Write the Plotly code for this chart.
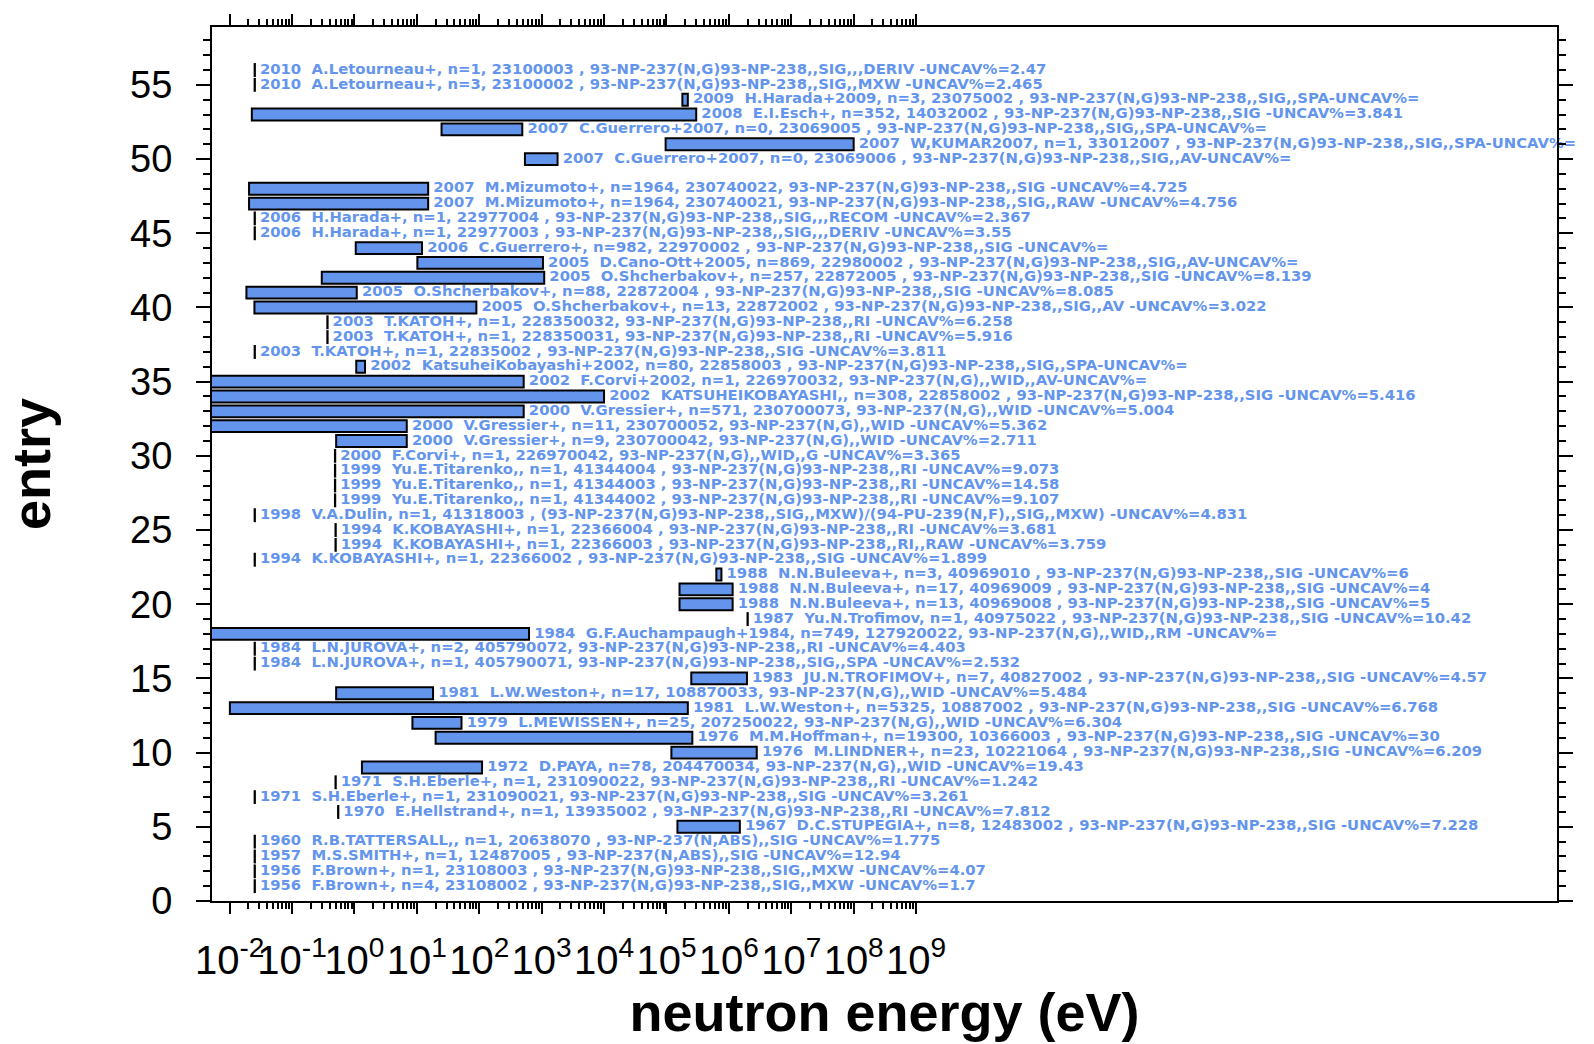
import plotly.graph_objects as go

# ---------------- data ----------------
entry = [1, 2, 3, 4, 5, 6, 7, 8, 9, 10,
         11, 12, 13, 14, 15, 16, 17, 18, 19, 20,
         21, 22, 23, 24, 25, 26, 27, 28, 29, 30,
         31, 32, 33, 34, 35, 36, 37, 38, 39, 40,
         41, 42, 43, 44, 45, 46, 47, 48, 50, 51,
         52, 53, 54, 55, 56]

labels = [
    "1956  F.Brown+, n=4, 23108002 , 93-NP-237(N,G)93-NP-238,,SIG,,MXW -UNCAV%=1.7",
    "1956  F.Brown+, n=1, 23108003 , 93-NP-237(N,G)93-NP-238,,SIG,,MXW -UNCAV%=4.07",
    "1957  M.S.SMITH+, n=1, 12487005 , 93-NP-237(N,ABS),,SIG -UNCAV%=12.94",
    "1960  R.B.TATTERSALL,, n=1, 20638070 , 93-NP-237(N,ABS),,SIG -UNCAV%=1.775",
    "1967  D.C.STUPEGIA+, n=8, 12483002 , 93-NP-237(N,G)93-NP-238,,SIG -UNCAV%=7.228",
    "1970  E.Hellstrand+, n=1, 13935002 , 93-NP-237(N,G)93-NP-238,,RI -UNCAV%=7.812",
    "1971  S.H.Eberle+, n=1, 231090021, 93-NP-237(N,G)93-NP-238,,SIG -UNCAV%=3.261",
    "1971  S.H.Eberle+, n=1, 231090022, 93-NP-237(N,G)93-NP-238,,RI -UNCAV%=1.242",
    "1972  D.PAYA, n=78, 204470034, 93-NP-237(N,G),,WID -UNCAV%=19.43",
    "1976  M.LINDNER+, n=23, 10221064 , 93-NP-237(N,G)93-NP-238,,SIG -UNCAV%=6.209",
    "1976  M.M.Hoffman+, n=19300, 10366003 , 93-NP-237(N,G)93-NP-238,,SIG -UNCAV%=30",
    "1979  L.MEWISSEN+, n=25, 207250022, 93-NP-237(N,G),,WID -UNCAV%=6.304",
    "1981  L.W.Weston+, n=5325, 10887002 , 93-NP-237(N,G)93-NP-238,,SIG -UNCAV%=6.768",
    "1981  L.W.Weston+, n=17, 108870033, 93-NP-237(N,G),,WID -UNCAV%=5.484",
    "1983  JU.N.TROFIMOV+, n=7, 40827002 , 93-NP-237(N,G)93-NP-238,,SIG -UNCAV%=4.57",
    "1984  L.N.JUROVA+, n=1, 405790071, 93-NP-237(N,G)93-NP-238,,SIG,,SPA -UNCAV%=2.532",
    "1984  L.N.JUROVA+, n=2, 405790072, 93-NP-237(N,G)93-NP-238,,RI -UNCAV%=4.403",
    "1984  G.F.Auchampaugh+1984, n=749, 127920022, 93-NP-237(N,G),,WID,,RM -UNCAV%=",
    "1987  Yu.N.Trofimov, n=1, 40975022 , 93-NP-237(N,G)93-NP-238,,SIG -UNCAV%=10.42",
    "1988  N.N.Buleeva+, n=13, 40969008 , 93-NP-237(N,G)93-NP-238,,SIG -UNCAV%=5",
    "1988  N.N.Buleeva+, n=17, 40969009 , 93-NP-237(N,G)93-NP-238,,SIG -UNCAV%=4",
    "1988  N.N.Buleeva+, n=3, 40969010 , 93-NP-237(N,G)93-NP-238,,SIG -UNCAV%=6",
    "1994  K.KOBAYASHI+, n=1, 22366002 , 93-NP-237(N,G)93-NP-238,,SIG -UNCAV%=1.899",
    "1994  K.KOBAYASHI+, n=1, 22366003 , 93-NP-237(N,G)93-NP-238,,RI,,RAW -UNCAV%=3.759",
    "1994  K.KOBAYASHI+, n=1, 22366004 , 93-NP-237(N,G)93-NP-238,,RI -UNCAV%=3.681",
    "1998  V.A.Dulin, n=1, 41318003 , (93-NP-237(N,G)93-NP-238,,SIG,,MXW)/(94-PU-239(N,F),,SIG,,MXW) -UNCAV%=4.831",
    "1999  Yu.E.Titarenko,, n=1, 41344002 , 93-NP-237(N,G)93-NP-238,,RI -UNCAV%=9.107",
    "1999  Yu.E.Titarenko,, n=1, 41344003 , 93-NP-237(N,G)93-NP-238,,RI -UNCAV%=14.58",
    "1999  Yu.E.Titarenko,, n=1, 41344004 , 93-NP-237(N,G)93-NP-238,,RI -UNCAV%=9.073",
    "2000  F.Corvi+, n=1, 226970042, 93-NP-237(N,G),,WID,,G -UNCAV%=3.365",
    "2000  V.Gressier+, n=9, 230700042, 93-NP-237(N,G),,WID -UNCAV%=2.711",
    "2000  V.Gressier+, n=11, 230700052, 93-NP-237(N,G),,WID -UNCAV%=5.362",
    "2000  V.Gressier+, n=571, 230700073, 93-NP-237(N,G),,WID -UNCAV%=5.004",
    "2002  KATSUHEIKOBAYASHI,, n=308, 22858002 , 93-NP-237(N,G)93-NP-238,,SIG -UNCAV%=5.416",
    "2002  F.Corvi+2002, n=1, 226970032, 93-NP-237(N,G),,WID,,AV-UNCAV%=",
    "2002  KatsuheiKobayashi+2002, n=80, 22858003 , 93-NP-237(N,G)93-NP-238,,SIG,,SPA-UNCAV%=",
    "2003  T.KATOH+, n=1, 22835002 , 93-NP-237(N,G)93-NP-238,,SIG -UNCAV%=3.811",
    "2003  T.KATOH+, n=1, 228350031, 93-NP-237(N,G)93-NP-238,,RI -UNCAV%=5.916",
    "2003  T.KATOH+, n=1, 228350032, 93-NP-237(N,G)93-NP-238,,RI -UNCAV%=6.258",
    "2005  O.Shcherbakov+, n=13, 22872002 , 93-NP-237(N,G)93-NP-238,,SIG,,AV -UNCAV%=3.022",
    "2005  O.Shcherbakov+, n=88, 22872004 , 93-NP-237(N,G)93-NP-238,,SIG -UNCAV%=8.085",
    "2005  O.Shcherbakov+, n=257, 22872005 , 93-NP-237(N,G)93-NP-238,,SIG -UNCAV%=8.139",
    "2005  D.Cano-Ott+2005, n=869, 22980002 , 93-NP-237(N,G)93-NP-238,,SIG,,AV-UNCAV%=",
    "2006  C.Guerrero+, n=982, 22970002 , 93-NP-237(N,G)93-NP-238,,SIG -UNCAV%=",
    "2006  H.Harada+, n=1, 22977003 , 93-NP-237(N,G)93-NP-238,,SIG,,,DERIV -UNCAV%=3.55",
    "2006  H.Harada+, n=1, 22977004 , 93-NP-237(N,G)93-NP-238,,SIG,,,RECOM -UNCAV%=2.367",
    "2007  M.Mizumoto+, n=1964, 230740021, 93-NP-237(N,G)93-NP-238,,SIG,,RAW -UNCAV%=4.756",
    "2007  M.Mizumoto+, n=1964, 230740022, 93-NP-237(N,G)93-NP-238,,SIG -UNCAV%=4.725",
    "2007  C.Guerrero+2007, n=0, 23069006 , 93-NP-237(N,G)93-NP-238,,SIG,,AV-UNCAV%=",
    "2007  W,KUMAR2007, n=1, 33012007 , 93-NP-237(N,G)93-NP-238,,SIG,,SPA-UNCAV%=",
    "2007  C.Guerrero+2007, n=0, 23069005 , 93-NP-237(N,G)93-NP-238,,SIG,,SPA-UNCAV%=",
    "2008  E.I.Esch+, n=352, 14032002 , 93-NP-237(N,G)93-NP-238,,SIG -UNCAV%=3.841",
    "2009  H.Harada+2009, n=3, 23075002 , 93-NP-237(N,G)93-NP-238,,SIG,,SPA-UNCAV%=",
    "2010  A.Letourneau+, n=3, 23100002 , 93-NP-237(N,G)93-NP-238,,SIG,,MXW -UNCAV%=2.465",
    "2010  A.Letourneau+, n=1, 23100003 , 93-NP-237(N,G)93-NP-238,,SIG,,,DERIV -UNCAV%=2.47",
]

# energy range of each entry (eV)
e_min = [0.0253, 0.0253, 0.0253, 0.0253, 1.5e5, 0.55, 0.0253, 0.5, 1.32, 1.2e5,
         20.0, 8.5, 0.0101, 0.51, 2.5e5, 0.0253, 0.0253, 1e-5, 2.0e6, 1.62e5,
         1.62e5, 6.3e5, 0.0253, 0.5, 0.5, 0.0253, 0.49, 0.49, 0.49, 0.49,
         0.51, 1e-5, 1e-5, 1e-5, 1e-5, 1.07, 0.0253, 0.37, 0.37, 0.025,
         0.0186, 0.30, 10.2, 1.05, 0.0253, 0.0253, 0.0205, 0.0205, 540.0, 9.7e4,
         24.9, 0.0227, 1.8e5, 0.0253, 0.0253]
e_max = [0.0253, 0.0253, 0.0253, 0.0253, 1.5e6, 0.55, 0.0253, 0.5, 111.0, 2.8e6,
         2.6e5, 52.0, 2.2e5, 18.2, 1.95e6, 0.0253, 0.0253, 628.0, 2.0e6, 1.15e6,
         1.15e6, 7.6e5, 0.0253, 0.5, 0.5, 0.0253, 0.49, 0.49, 0.49, 0.49,
         6.9, 6.9, 516.0, 1.0e4, 516.0, 1.48, 0.0253, 0.37, 0.37, 90.0,
         1.09, 1100.0, 1050.0, 12.1, 0.0253, 0.0253, 15.2, 15.2, 1800.0, 1.0e8,
         490.0, 3.0e5, 2.2e5, 0.0253, 0.0253]

x_tick_vals = [1e-2, 1e-1, 1e0, 1e1, 1e2, 1e3, 1e4, 1e5, 1e6, 1e7, 1e8, 1e9]
x_tick_text = ["10<sup>-2</sup>", "10<sup>-1</sup>", "10<sup>0</sup>", "10<sup>1</sup>",
               "10<sup>2</sup>", "10<sup>3</sup>", "10<sup>4</sup>", "10<sup>5</sup>",
               "10<sup>6</sup>", "10<sup>7</sup>", "10<sup>8</sup>", "10<sup>9</sup>"]
y_tick_vals = [0, 5, 10, 15, 20, 25, 30, 35, 40, 45, 50, 55]
y_tick_text = ["0", "5", "10", "15", "20", "25", "30", "35", "40", "45", "50", "55"]

# ---------------- drawing ----------------
bases, lengths = [], []
for lo, hi in zip(e_min, e_max):
    if hi > lo:
        bases.append(lo)
        lengths.append(hi - lo)
    else:  # single-energy point: draw as a hairline bar
        bases.append(lo * 0.995)
        lengths.append(lo * 0.01)

x_minor = [k * 10.0 ** d for d in range(-2, 9) for k in range(2, 10)]

BLUE = "#6495ED"

fig = go.Figure()
fig.add_trace(go.Bar(
    orientation="h", y=entry, x=lengths, base=bases, width=0.8,
    marker=dict(color=BLUE, line=dict(color="black", width=2)),
    hoverinfo="skip", showlegend=False,
))
fig.add_trace(go.Scatter(
    x=e_max, y=entry, mode="text",
    text=["\u00a0" + t.replace("  ", "\u00a0\u00a0") for t in labels],
    textposition="middle right",
    textfont=dict(family="DejaVu Sans", size=14.8, color=BLUE, weight="bold"),
    cliponaxis=False, hoverinfo="skip", showlegend=False,
))

fig.update_layout(
    width=1594, height=1044,
    margin=dict(l=212, r=37, t=27, b=143),
    plot_bgcolor="white", paper_bgcolor="white",
    barmode="overlay", showlegend=False,
    font=dict(family="Liberation Sans", color="black"),
)
fig.update_xaxes(
    type="log", range=[-2.282, 19.27],
    tickmode="array", tickvals=x_tick_vals, ticktext=x_tick_text, tickangle=0,
    ticks="outside", ticklen=11, tickwidth=2, tickcolor="black",
    minor=dict(tickmode="array", tickvals=x_minor, ticks="outside", ticklen=6,
               tickwidth=1.5, tickcolor="black", showgrid=False),
    tickfont=dict(family="Liberation Sans", size=40, color="black"),
    ticklabelstandoff=12,
    showline=True, linewidth=2, linecolor="black", mirror="allticks",
    showgrid=False, zeroline=False,
    title=dict(text="neutron energy (eV)", standoff=10,
               font=dict(family="Liberation Sans", size=54, color="black", weight="bold")),
)
fig.update_yaxes(
    range=[0, 58.9],
    tickmode="array", tickvals=y_tick_vals, ticktext=y_tick_text,
    ticks="outside", ticklen=14, tickwidth=2, tickcolor="black",
    minor=dict(dtick=1, ticks="outside", ticklen=7, tickwidth=1.5,
               tickcolor="black", showgrid=False),
    tickfont=dict(family="Liberation Sans", size=38, color="black"),
    ticklabelstandoff=16,
    showline=True, linewidth=2, linecolor="black", mirror="allticks",
    showgrid=False, zeroline=False,
    title=dict(text="entry", standoff=62,
               font=dict(family="Liberation Sans", size=54, color="black", weight="bold")),
)

fig.write_html("out.html", config={"displayModeBar": False},
               post_script="document.body.style.margin='0';document.body.style.overflow='hidden';")
